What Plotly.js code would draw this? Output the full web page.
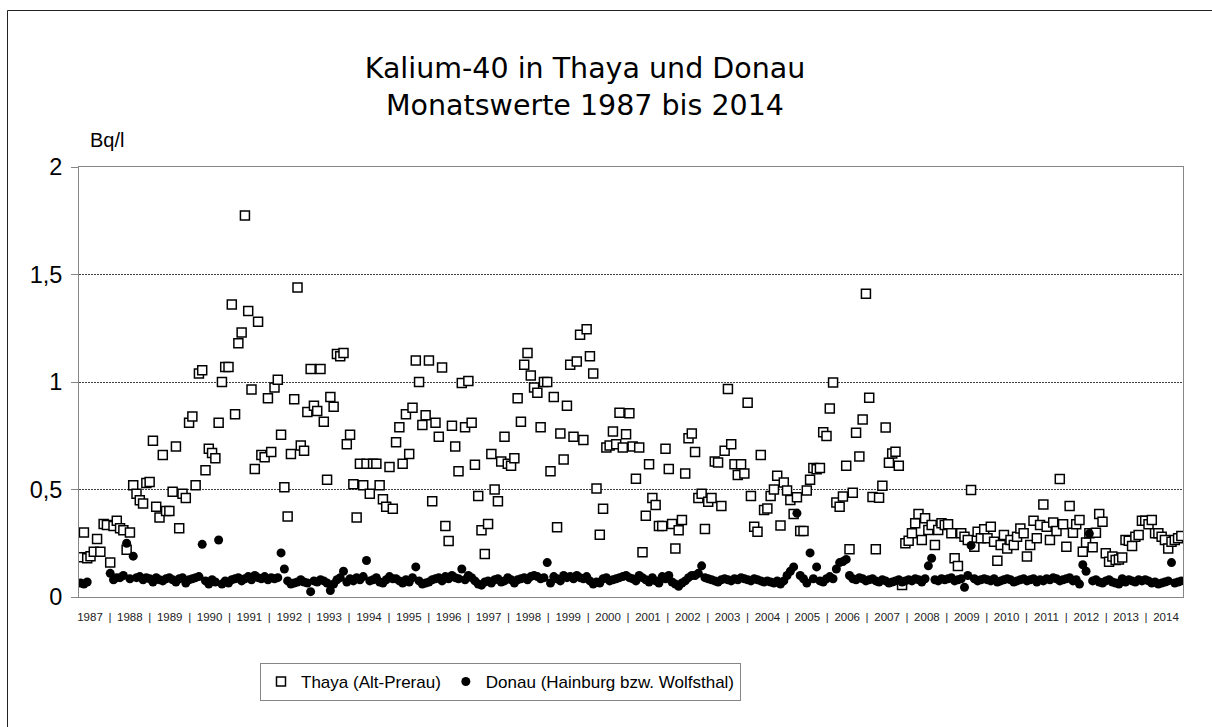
<!DOCTYPE html>
<html>
<head>
<meta charset="utf-8">
<script src="https://cdn.plot.ly/plotly-3.0.1.min.js"></script>
<style>
  html, body { margin: 0; padding: 0; background: #fff; }
  #chart { width: 1212px; height: 727px; }
</style>
</head>
<body>
<div id="chart"></div>
<script>
// Years shown on the axis (one label per year)
const years = [1987, 1988, 1989, 1990, 1991, 1992, 1993, 1994, 1995, 1996, 1997, 1998, 1999, 2000,
               2001, 2002, 2003, 2004, 2005, 2006, 2007, 2008, 2009, 2010, 2011, 2012, 2013, 2014];

// Thaya (Alt-Prerau), monthly values in Bq/l, Jan..Dec per line
const thaya = [
  0.185, 0.30, 0.18, 0.19, 0.21, 0.27, 0.21, 0.34, 0.335, 0.16, 0.33, 0.355,   // 1987
  0.32, 0.31, 0.22, 0.30, 0.52, 0.48, 0.45, 0.435, 0.53, 0.535, 0.727, 0.42,    // 1988
  0.37, 0.66, 0.40, 0.40, 0.49, 0.70, 0.32, 0.48, 0.46, 0.81, 0.84, 0.52,       // 1989
  1.04, 1.055, 0.59, 0.69, 0.67, 0.645, 0.81, 1.0, 1.07, 1.07, 1.36, 0.85,      // 1990
  1.18, 1.23, 1.775, 1.33, 0.965, 0.595, 1.28, 0.66, 0.65, 0.925, 0.675, 0.975, // 1991
  1.01, 0.755, 0.51, 0.375, 0.665, 0.92, 1.44, 0.705, 0.68, 0.86, 1.06, 0.89,   // 1992
  0.865, 1.06, 0.815, 0.545, 0.93, 0.885, 1.13, 1.12, 1.135, 0.71, 0.755, 0.525,// 1993
  0.37, 0.62, 0.52, 0.62, 0.48, 0.62, 0.62, 0.52, 0.455, 0.42, 0.605, 0.41,     // 1994
  0.72, 0.79, 0.62, 0.85, 0.665, 0.88, 1.10, 1.0, 0.80, 0.845, 1.10, 0.445,     // 1995
  0.81, 0.745, 1.067, 0.33, 0.26, 0.797, 0.70, 0.585, 0.995, 0.79, 1.005, 0.81, // 1996
  0.615, 0.47, 0.31, 0.20, 0.34, 0.665, 0.50, 0.445, 0.63, 0.745, 0.62, 0.61,   // 1997
  0.645, 0.925, 0.815, 1.08, 1.135, 1.03, 0.975, 0.95, 0.79, 1.0, 1.0, 0.585,   // 1998
  0.93, 0.325, 0.76, 0.64, 0.89, 1.08, 0.745, 1.095, 1.22, 0.73, 1.245, 1.12,   // 1999
  1.04, 0.505, 0.29, 0.41, 0.695, 0.705, 0.77, 0.71, 0.857, 0.695, 0.757, 0.855,// 2000
  0.70, 0.55, 0.695, 0.208, 0.378, 0.617, 0.46, 0.428, 0.33, 0.33, 0.69, 0.595, // 2001
  0.34, 0.226, 0.31, 0.358, 0.575, 0.738, 0.76, 0.675, 0.46, 0.48, 0.316, 0.443,// 2002
  0.46, 0.63, 0.626, 0.423, 0.68, 0.967, 0.71, 0.617, 0.567, 0.617, 0.575, 0.903,// 2003
  0.47, 0.327, 0.304, 0.66, 0.405, 0.412, 0.47, 0.50, 0.564, 0.332, 0.532, 0.495,// 2004
  0.451, 0.386, 0.464, 0.307, 0.307, 0.495, 0.545, 0.60, 0.594, 0.60, 0.766, 0.749,// 2005
  0.877, 0.998, 0.44, 0.42, 0.467, 0.61, 0.222, 0.485, 0.764, 0.653, 0.826, 1.41, // 2006
  0.927, 0.465, 0.222, 0.462, 0.518, 0.788, 0.625, 0.668, 0.676, 0.61, 0.056, 0.25,// 2007
  0.262, 0.296, 0.343, 0.386, 0.265, 0.366, 0.312, 0.335, 0.242, 0.312, 0.343, 0.335,// 2008
  0.338, 0.296, 0.18, 0.144, 0.296, 0.28, 0.265, 0.498, 0.234, 0.304, 0.273, 0.315, // 2009
  0.273, 0.327, 0.257, 0.169, 0.242, 0.288, 0.226, 0.265, 0.242, 0.28, 0.319, 0.296, // 2010
  0.188, 0.242, 0.355, 0.273, 0.335, 0.43, 0.327, 0.265, 0.346, 0.307, 0.549, 0.338, // 2011
  0.234, 0.423, 0.299, 0.338, 0.358, 0.211, 0.253, 0.296, 0.231, 0.299, 0.386, 0.35, // 2012
  0.203, 0.164, 0.188, 0.172, 0.175, 0.184, 0.265, 0.262, 0.237, 0.28, 0.288, 0.355, // 2013
  0.355, 0.338, 0.358, 0.296, 0.296, 0.28, 0.265, 0.226, 0.257, 0.265, 0.273, 0.284  // 2014
];

// Donau (Hainburg bzw. Wolfsthal), monthly values in Bq/l, Jan..Dec per line
const donau = [
  0.065, 0.06, 0.07, null, null, null, null, null, null, 0.11, 0.08, 0.09,      // 1987
  0.09, 0.10, 0.25, 0.085, 0.19, 0.09, 0.095, 0.08, 0.09, 0.085, 0.07, 0.09,    // 1988
  0.08, 0.075, 0.085, 0.09, 0.08, 0.07, 0.085, 0.09, 0.065, 0.08, 0.085, 0.09,  // 1989
  0.095, 0.245, 0.075, 0.06, 0.08, 0.07, 0.265, 0.06, 0.075, 0.065, 0.08, 0.085,// 1990
  0.09, 0.075, 0.085, 0.095, 0.08, 0.10, 0.09, 0.085, 0.095, 0.08, 0.09, 0.085, // 1991
  0.09, 0.205, 0.13, 0.075, 0.06, 0.065, 0.07, 0.08, 0.07, 0.065, 0.025, 0.075, // 1992
  0.07, 0.08, 0.075, 0.065, 0.03, 0.06, 0.08, 0.09, 0.12, 0.07, 0.085, 0.075,   // 1993
  0.09, 0.08, 0.095, 0.17, 0.075, 0.08, 0.09, 0.07, 0.065, 0.08, 0.095, 0.085,  // 1994
  0.085, 0.075, 0.065, 0.08, 0.07, 0.09, 0.14, 0.075, 0.06, 0.065, 0.07, 0.08,  // 1995
  0.085, 0.09, 0.075, 0.095, 0.085, 0.10, 0.09, 0.085, 0.13, 0.08, 0.10, 0.09,  // 1996
  0.075, 0.06, 0.055, 0.07, 0.075, 0.065, 0.08, 0.085, 0.07, 0.075, 0.09, 0.08, // 1997
  0.065, 0.08, 0.085, 0.09, 0.08, 0.095, 0.10, 0.095, 0.085, 0.09, 0.16, 0.065, // 1998
  0.095, 0.085, 0.075, 0.10, 0.09, 0.095, 0.085, 0.10, 0.09, 0.085, 0.095, 0.075,// 1999
  0.06, 0.07, 0.065, 0.085, 0.09, 0.075, 0.08, 0.085, 0.09, 0.095, 0.10, 0.09,  // 2000
  0.085, 0.075, 0.10, 0.09, 0.08, 0.07, 0.09, 0.075, 0.065, 0.095, 0.085, 0.10, // 2001
  0.07, 0.06, 0.05, 0.065, 0.075, 0.09, 0.10, 0.10, 0.11, 0.145, 0.09, 0.085,   // 2002
  0.08, 0.075, 0.07, 0.08, 0.085, 0.08, 0.075, 0.085, 0.08, 0.09, 0.085, 0.08,  // 2003
  0.075, 0.085, 0.08, 0.075, 0.07, 0.075, 0.07, 0.065, 0.075, 0.06, 0.075, 0.10,// 2004
  0.12, 0.14, 0.39, 0.10, 0.085, 0.065, 0.205, 0.085, 0.14, 0.075, 0.07, 0.085, // 2005
  0.095, 0.085, 0.13, 0.16, 0.165, 0.175, 0.10, 0.085, 0.08, 0.09, 0.085, 0.075,// 2006
  0.08, 0.085, 0.075, 0.07, 0.08, 0.075, 0.065, 0.07, 0.075, 0.08, 0.07, 0.075, // 2007
  0.08, 0.075, 0.085, 0.08, 0.07, 0.085, 0.145, 0.18, 0.08, 0.075, 0.085, 0.08, // 2008
  0.085, 0.09, 0.075, 0.08, 0.085, 0.045, 0.10, 0.24, 0.085, 0.075, 0.08, 0.085,// 2009
  0.08, 0.075, 0.085, 0.07, 0.075, 0.08, 0.085, 0.08, 0.07, 0.075, 0.08, 0.085, // 2010
  0.075, 0.08, 0.085, 0.07, 0.08, 0.075, 0.085, 0.08, 0.09, 0.085, 0.075, 0.08, // 2011
  0.085, 0.09, 0.075, 0.08, 0.06, 0.15, 0.12, 0.295, 0.075, 0.08, 0.07, 0.065,  // 2012
  0.075, 0.08, 0.07, 0.065, 0.06, 0.085, 0.07, 0.08, 0.075, 0.07, 0.08, 0.075,  // 2013
  0.08, 0.075, 0.065, 0.07, 0.06, 0.065, 0.07, 0.075, 0.16, 0.065, 0.07, 0.075  // 2014
];

const yTicks = [0, 0.5, 1, 1.5, 2];

// ---- geometry of the page ----
const W = 1212, H = 727;
const M = { l: 79, r: 29, t: 167, b: 130 };
const plotW = W - M.l - M.r;          // 1104
const plotH = H - M.t - M.b;          // 430
const nMonths = thaya.length;         // 336
const pxPerMonth = plotW / nMonths;

// month index for every point
const months = thaya.map((_, i) => i);
const hover = months.map(i => ((i % 12) + 1) + '/' + years[Math.floor(i / 12)]);

// year labels laid out like the reference's text row
function pxToX(px) { return (px - M.l) / pxPerMonth - 0.5; }
const labFirst = 90, labLast = 1166;
const labStep = (labLast - labFirst) / (years.length - 1);
const tickvals = [], ticktext = [];
years.forEach((y, i) => {
  tickvals.push(pxToX(labFirst + i * labStep));
  ticktext.push(String(y));
  if (i < years.length - 1) {
    tickvals.push(pxToX(labFirst + (i + 0.5) * labStep));
    ticktext.push('|');
  }
});

function pxX(px) { return (px - M.l) / plotW; }
function pxY(py) { return (H - M.b - py) / plotH; }

const traces = [
  {
    type: 'scatter', mode: 'markers', name: 'Thaya (Alt-Prerau)',
    x: months, y: thaya, text: hover,
    hovertemplate: '%{text}: %{y}<extra>Thaya</extra>',
    marker: { symbol: 'square', size: 9, color: '#ffffff', line: { color: '#000000', width: 1.5 } }
  },
  {
    type: 'scatter', mode: 'markers', name: 'Donau (Hainburg bzw. Wolfsthal)',
    x: months, y: donau, text: hover,
    hovertemplate: '%{text}: %{y}<extra>Donau</extra>',
    marker: { symbol: 'circle', size: 9, color: '#000000' }
  }
];

const layout = {
  width: W, height: H,
  margin: M,
  paper_bgcolor: '#ffffff', plot_bgcolor: '#ffffff',
  font: { family: 'Liberation Sans, Arial, sans-serif', color: '#000000' },
  separators: ',.',
  showlegend: true,
  title: {
    text: 'Kalium-40 in Thaya und Donau<br>Monatswerte 1987 bis 2014',
    font: { family: 'DejaVu Sans, Verdana, sans-serif', size: 28.5, color: '#000000' },
    x: 585 / W, xanchor: 'center',
    y: 1 - 78 / H, yanchor: 'middle'
  },
  xaxis: {
    range: [-0.5, nMonths - 0.5],
    showgrid: false, zeroline: false,
    showline: true, linecolor: '#868686', linewidth: 1, mirror: true,
    ticks: '', tickmode: 'array', tickvals: tickvals, ticktext: ticktext,
    tickangle: 0, ticklabelstandoff: 9,
    tickfont: { family: 'Liberation Sans, Arial, sans-serif', size: 11.5, color: '#222222' },
    fixedrange: true
  },
  yaxis: {
    range: [0, 2],
    tickmode: 'array', tickvals: yTicks,
    showgrid: true, gridcolor: '#404040', gridwidth: 1, griddash: '2px,1px',
    zeroline: false,
    showline: true, linecolor: '#868686', linewidth: 1, mirror: true,
    ticks: 'outside', ticklen: 7, tickcolor: '#868686', tickwidth: 1,
    ticklabelstandoff: 4,
    tickfont: { family: 'Liberation Sans, Arial, sans-serif', size: 23.5, color: '#000000' },
    fixedrange: true
  },
  legend: {
    orientation: 'h',
    x: pxX(260), xanchor: 'left',
    y: pxY(663), yanchor: 'top',
    bgcolor: '#ffffff', bordercolor: '#868686', borderwidth: 1,
    font: { family: 'Liberation Sans, Arial, sans-serif', size: 17, color: '#000000' },
    itemclick: false, itemdoubleclick: false
  },
  annotations: [
    {
      text: 'Bq/l', showarrow: false,
      xref: 'paper', yref: 'paper', x: pxX(88), y: pxY(140),
      xanchor: 'left', yanchor: 'middle',
      font: { family: 'Liberation Sans, Arial, sans-serif', size: 20, color: '#000000' }
    }
  ],
  shapes: [
    {
      type: 'rect', xref: 'paper', yref: 'paper',
      x0: pxX(7.5), x1: pxX(W + 5), y0: pxY(H + 5), y1: pxY(10.5),
      line: { color: '#222222', width: 1 }, fillcolor: 'rgba(0,0,0,0)', layer: 'below'
    }
  ]
};

Plotly.newPlot('chart', traces, layout, { displayModeBar: false, responsive: false });
</script>
</body>
</html>
